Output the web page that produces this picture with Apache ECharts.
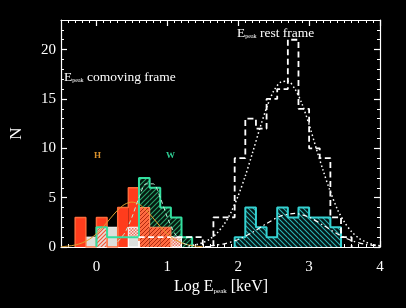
<!DOCTYPE html>
<html><head><meta charset="utf-8">
<script src="https://cdn.jsdelivr.net/npm/echarts@6/dist/echarts.min.js"></script>
<style>html,body{margin:0;padding:0;background:#000}#c{width:406px;height:308px}</style>
</head><body><div id="c"></div>
<script>
// ---------- data ----------
const BIN = 0.15;
const xTickVals = [0, 1, 2, 3, 4];
const yTickVals = [0, 5, 10, 15, 20];

// comoving frame histograms (left bin edges, counts)
const hSolidLeft = [-0.3, -0.15, 0, 0.15, 0.3, 0.45];
const hSolidN    = [3, 0, 3, 0, 4, 6];
const wLeft = [0, 0.15, 0.3, 0.45, 0.6, 0.75, 0.9, 1.05, 1.2];
const wN    = [2, 1, 1, 1, 7, 6, 4, 3, 1];
const hHatchLeft = [0.6, 0.75, 0.9];
const hHatchN    = [4, 2, 2];
const hStripeLeft = [0];
const hStripeN    = [2];
const checkLeft = [0.45, 1.05];
const checkN    = [2, 1];
const greyLeft = [-0.15, 0.15, 0.45];
const greyN    = [1, 2, 1];

// rest frame histograms
const restLeft = [0.6, 0.75, 0.9, 1.05, 1.2, 1.35, 1.5, 1.65, 1.8, 1.95, 2.1, 2.25, 2.4, 2.55, 2.7, 2.85, 3.0, 3.15, 3.3, 3.45];
const restN    = [1, 1, 1, 1, 1, 1, 0, 3, 3, 9, 13, 12, 15, 16, 21, 14, 10, 9, 3, 1];
const cyanLeft = [1.95, 2.1, 2.25, 2.4, 2.55, 2.7, 2.85, 3.0, 3.15, 3.3];
const cyanN    = [1, 4, 2, 1, 4, 3, 4, 3, 3, 2];

// fitted curves
const hFitX = [-0.5, -0.4, -0.3, -0.2, -0.1, 0, 0.1, 0.2, 0.3, 0.4, 0.5, 0.6, 0.7, 0.8, 0.9, 1.0, 1.1, 1.2, 1.3, 1.4, 1.5];
const hFitY = [0.03, 0.09, 0.2, 0.42, 0.78, 1.34, 2.08, 2.93, 3.74, 4.33, 4.55, 4.33, 3.74, 2.93, 2.08, 1.34, 0.78, 0.42, 0.2, 0.09, 0.03];
const wFitX = [0.3, 0.4, 0.5, 0.6, 0.7, 0.8, 0.9, 1.0, 1.1, 1.2, 1.3];
const wFitY = [0.53, 1.43, 3.0, 5.0, 6.4, 6.4, 5.0, 3.0, 1.43, 0.53, 0.16];
const restFitX = [1.3, 1.4, 1.5, 1.6, 1.7, 1.8, 1.9, 2.0, 2.1, 2.2, 2.3, 2.4, 2.5, 2.6, 2.7, 2.8, 2.9, 3.0, 3.1, 3.2, 3.3, 3.4, 3.5, 3.6, 3.7, 3.8, 3.9, 4.0];
const restFitY = [0.11, 0.23, 0.44, 0.81, 1.4, 2.29, 3.54, 5.2, 7.2, 9.5, 11.9, 14.1, 15.8, 16.7, 16.8, 16.0, 14.5, 12.4, 10.0, 7.7, 5.6, 3.8, 2.5, 1.55, 0.91, 0.5, 0.26, 0.13];
const cyanFitX = [1.6, 1.8, 2.0, 2.2, 2.4, 2.6, 2.8, 3.0, 3.2, 3.4, 3.6, 3.8, 4.0];
const cyanFitY = [0.11, 0.32, 0.76, 1.48, 2.38, 3.14, 3.4, 3.02, 2.2, 1.32, 0.65, 0.26, 0.09];

// ---------- helpers ----------
const FONT = 'Liberation Serif';
function hatch(bg, fg, dir, size, lw) {
  const c = document.createElement('canvas');
  c.width = c.height = size;
  const g = c.getContext('2d');
  if (bg) { g.fillStyle = bg; g.fillRect(0, 0, size, size); }
  g.strokeStyle = fg; g.lineWidth = lw; g.beginPath();
  if (dir > 0) {
    g.moveTo(-1, size + 1); g.lineTo(size + 1, -1);
    g.moveTo(-1, 1); g.lineTo(1, -1);
    g.moveTo(size - 1, size + 1); g.lineTo(size + 1, size - 1);
  } else {
    g.moveTo(-1, -1); g.lineTo(size + 1, size + 1);
    g.moveTo(size - 1, -1); g.lineTo(size + 1, 1);
    g.moveTo(-1, size - 1); g.lineTo(1, size + 1);
  }
  g.stroke();
  return { image: c, repeat: 'repeat' };
}
function checker(bg, fg, size) {
  const c = document.createElement('canvas');
  c.width = c.height = size;
  const g = c.getContext('2d');
  g.fillStyle = bg; g.fillRect(0, 0, size, size);
  g.fillStyle = fg; g.fillRect(0, 0, size / 2, size / 2); g.fillRect(size / 2, size / 2, size / 2, size / 2);
  return { image: c, repeat: 'repeat' };
}
const pats = {
  w: hatch('#06180f', '#2aa36c', 1, 5, 1.1),
  hh: hatch('#ff6a40', '#b02a10', 1, 4, 1),
  hs: hatch('#eadcd8', '#f0553a', 1, 4, 1.2),
  ck: checker('#f2e6e2', '#f07060', 3),
  cy: hatch('#041616', '#2db4b4', -1, 5, 1.1)
};
function pairs(xs, ys) { return xs.map((x, i) => [x, ys[i]]); }
function stepPts(left, n) {
  const pts = [[left[0], 0]];
  left.forEach((x, i) => pts.push([x, n[i]]));
  pts.push([left[left.length - 1] + BIN, 0]);
  return pts;
}
function barSeries(left, n, fill, stroke, sw) {
  return {
    type: 'custom', coordinateSystem: 'cartesian2d', xAxisIndex: 0, yAxisIndex: 0,
    data: pairs(left, n), encode: { x: 0, y: 1 }, silent: true,
    renderItem: function (params, api) {
      const x0 = api.value(0), v = api.value(1);
      const p0 = api.coord([x0, 0]), p1 = api.coord([x0 + BIN, v]);
      return { type: 'rect',
        shape: { x: p0[0], y: p1[1], width: p1[0] - p0[0], height: p0[1] - p1[1] },
        style: { fill: fill, stroke: stroke || null, lineWidth: sw || 0 } };
    }
  };
}
function stepSeries(left, n, color, width, type) {
  return { type: 'line', step: 'end', data: stepPts(left, n), symbol: 'none', silent: true,
    xAxisIndex: 0, yAxisIndex: 0,
    lineStyle: { color: color, width: width, type: type || 'solid' } };
}
function curveSeries(xs, ys, color, width, type) {
  return { type: 'line', smooth: 0.3, data: pairs(xs, ys), symbol: 'none', silent: true,
    xAxisIndex: 0, yAxisIndex: 0,
    lineStyle: { color: color, width: width, type: type || 'solid' } };
}
function xAx(pos, major) {
  const a = { type: 'value', min: -0.5, max: 4, position: pos, splitLine: { show: false },
    axisLine: { show: major, onZero: false, lineStyle: { color: '#fff', width: 1.2 } } };
  if (major) {
    a.axisTick = { inside: true, length: 6, customValues: xTickVals, lineStyle: { color: '#fff', width: 1.2 } };
    a.axisLabel = pos === 'bottom'
      ? { customValues: xTickVals, color: '#fff', fontFamily: FONT, fontSize: 15, margin: 13 }
      : { show: false };
  } else {
    a.interval = 0.1;
    a.axisTick = { inside: true, length: 3, lineStyle: { color: '#fff', width: 1 } };
    a.axisLabel = { show: false };
  }
  return a;
}
function yAx(pos, major) {
  const a = { type: 'value', min: 0, max: 23, position: pos, splitLine: { show: false },
    axisLine: { show: major, onZero: false, lineStyle: { color: '#fff', width: 1.2 } } };
  if (major) {
    a.axisTick = { inside: true, length: 6, customValues: yTickVals, lineStyle: { color: '#fff', width: 1.2 } };
    a.axisLabel = pos === 'left'
      ? { customValues: yTickVals, color: '#fff', fontFamily: FONT, fontSize: 15, margin: 5 }
      : { show: false };
    if (pos === 'left') {
      a.name = 'N'; a.nameLocation = 'middle'; a.nameGap = 36;
      a.nameTextStyle = { color: '#fff', fontFamily: FONT, fontSize: 17 };
    }
  } else {
    a.interval = 1;
    a.axisTick = { inside: true, length: 3, lineStyle: { color: '#fff', width: 1 } };
    a.axisLabel = { show: false };
  }
  return a;
}
const subRich = {
  a: { fill: '#fff', fontFamily: FONT, fontSize: 13.5 },
  s: { fill: '#fff', fontFamily: FONT, fontSize: 6, padding: [7, 0, 0, 0] },
  b: { fill: '#fff', fontFamily: FONT, fontSize: 16 },
  t: { fill: '#fff', fontFamily: FONT, fontSize: 7, padding: [9, 0, 0, 0] }
};

const chart = echarts.init(document.getElementById('c'), null, { renderer: 'canvas' });
chart.setOption({
  backgroundColor: '#000',
  animation: false,
  grid: { left: 58, right: 26, top: 20, bottom: 61 },
  xAxis: [xAx('bottom', true), xAx('bottom', false), xAx('top', true), xAx('top', false)],
  yAxis: [yAx('left', true), yAx('left', false), yAx('right', true), yAx('right', false)],
  graphic: [
    { type: 'text', left: 64, top: 70, style: { text: '{a|E}{s|peak}{a| comoving frame}', fill: '#fff', rich: subRich } },
    { type: 'text', left: 237, top: 26, style: { text: '{a|E}{s|peak}{a| rest frame}', fill: '#fff', rich: subRich } },
    { type: 'text', left: 94, top: 151, style: { text: 'H', fill: '#d8902c', font: 'bold 9px "Liberation Serif"' } },
    { type: 'text', left: 166, top: 151, style: { text: 'W', fill: '#2ecb92', font: 'bold 9px "Liberation Serif"' } },
    { type: 'text', left: 174, top: 279, style: { text: '{b|Log E}{t|peak}{b| [keV]}', fill: '#fff', rich: subRich } }
  ],
  series: [
    barSeries(wLeft, wN, pats.w),
    barSeries(hSolidLeft, hSolidN, '#ff3c1c'),
    barSeries(hHatchLeft, hHatchN, pats.hh),
    barSeries(hStripeLeft, hStripeN, pats.hs),
    barSeries(checkLeft, checkN, pats.ck, '#ffffff', 1),
    barSeries(greyLeft, greyN, '#dcdfdc', '#ffffff', 1),
    barSeries(cyanLeft, cyanN, pats.cy),
    stepSeries(hSolidLeft, hSolidN, '#ff6a3a', 1.5),
    stepSeries(hHatchLeft, hHatchN, '#ff8a5a', 1.2),
    stepSeries(wLeft, wN, '#33e0a0', 2),
    stepSeries(cyanLeft, cyanN, '#35d2d2', 2),
    stepSeries(restLeft, restN, '#ffffff', 1.8, [6, 3.5]),
    curveSeries(hFitX, hFitY, '#e0a030', 1),
    curveSeries(wFitX, wFitY, '#bff0d8', 1, [4, 3]),
    curveSeries(restFitX, restFitY, '#ffffff', 1.5, [1.5, 2.5]),
    curveSeries(cyanFitX, cyanFitY, '#ffffff', 1.2, [5, 3, 1.5, 3])
  ]
});
</script></body></html>
